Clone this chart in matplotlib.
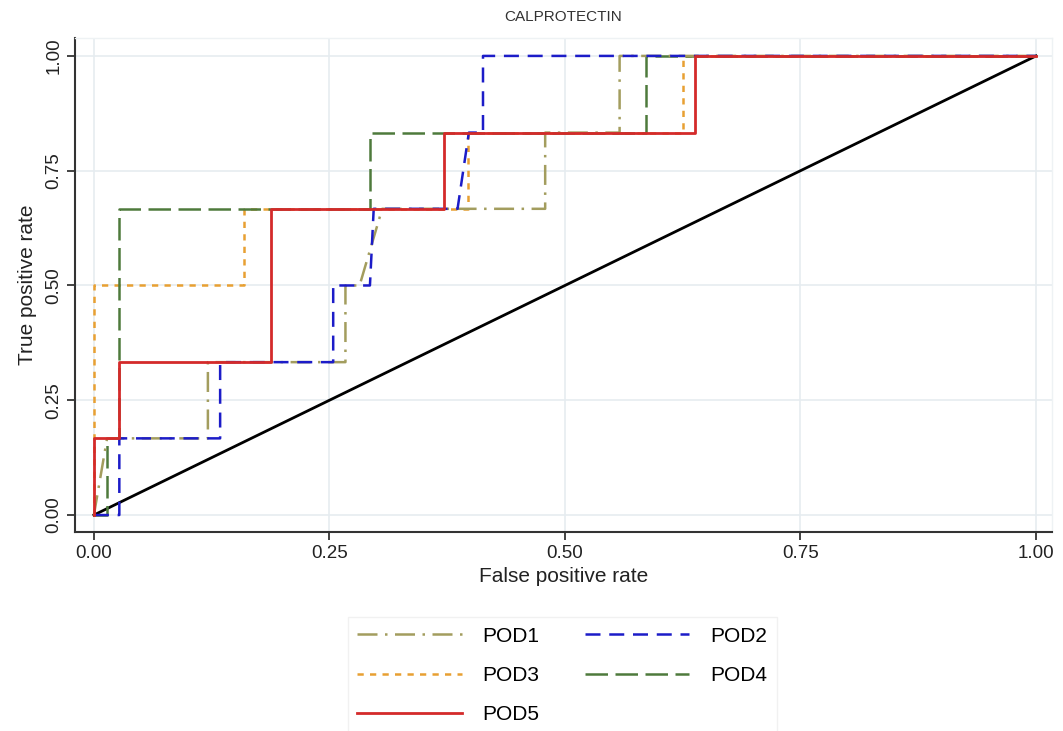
import matplotlib.pyplot as plt

plt.rcParams['font.family'] = ['Liberation Sans', 'DejaVu Sans']

# ROC curves (false positive rate, true positive rate)
pod1_fpr = [0, 0.014, 0.121, 0.121, 0.267, 0.267, 0.282, 0.306, 0.479, 0.479, 0.558, 0.558, 1]
pod1_tpr = [0, 0.167, 0.167, 0.333, 0.333, 0.5, 0.5, 0.667, 0.667, 0.833, 0.833, 1, 1]

pod2_fpr = [0, 0.027, 0.027, 0.134, 0.134, 0.254, 0.254, 0.293, 0.297, 0.386, 0.398, 0.413, 0.413, 1]
pod2_tpr = [0, 0, 0.167, 0.167, 0.333, 0.333, 0.5, 0.5, 0.667, 0.667, 0.833, 0.833, 1, 1]

pod3_fpr = [0, 0, 0.159, 0.159, 0.397, 0.397, 0.625, 0.625, 1]
pod3_tpr = [0, 0.5, 0.5, 0.667, 0.667, 0.833, 0.833, 1, 1]

pod4_fpr = [0, 0.014, 0.014, 0.027, 0.027, 0.293, 0.293, 0.586, 0.586, 1]
pod4_tpr = [0, 0, 0.167, 0.167, 0.667, 0.667, 0.833, 0.833, 1, 1]

pod5_fpr = [0, 0, 0.027, 0.027, 0.188, 0.188, 0.372, 0.372, 0.638, 0.638, 1]
pod5_tpr = [0, 0.167, 0.167, 0.333, 0.333, 0.667, 0.667, 0.833, 0.833, 1, 1]

ref_x = [0, 1]
ref_y = [0, 1]

ticks = [0, 0.25, 0.5, 0.75, 1]
tick_labels = ['0.00', '0.25', '0.50', '0.75', '1.00']

fig = plt.figure(figsize=(10.63, 7.31), dpi=100)
ax = fig.add_axes([0.0706, 0.2722, 0.9191, 0.6758])

# draw order: reference line, then curves
ax.plot(ref_x, ref_y, color='black', lw=2.0, zorder=2)
l3, = ax.plot(pod3_fpr, pod3_tpr, color='#e8a032', lw=1.8, ls=(0, (2.5, 2.5)), label='POD3', zorder=3)
l4, = ax.plot(pod4_fpr, pod4_tpr, color='#4e7a3c', lw=1.8, ls=(0, (9, 3)), label='POD4', zorder=3)
l1, = ax.plot(pod1_fpr, pod1_tpr, color='#a39d5e', lw=1.8, ls=(0, (8, 3, 1, 3)), label='POD1', zorder=4)
l2, = ax.plot(pod2_fpr, pod2_tpr, color='#1c1cc8', lw=1.8, ls=(0, (6, 3.5)), label='POD2', zorder=4)
l5, = ax.plot(pod5_fpr, pod5_tpr, color='#d42a2a', lw=2.0, ls='-', label='POD5', zorder=5)

ax.set_xlim(-0.020, 1.017)
ax.set_ylim(-0.037, 1.039)
ax.set_xticks(ticks)
ax.set_xticklabels(tick_labels)
ax.set_yticks(ticks)
ax.set_yticklabels(tick_labels, rotation=90, va='center')
ax.tick_params(labelsize=13.5, length=6, width=1.2, colors='#222222', pad=3)
ax.grid(True, color='#e6ecf0', lw=1.2)
ax.set_axisbelow(True)

for side in ['left', 'bottom']:
    ax.spines[side].set_color('#333333')
    ax.spines[side].set_linewidth(1.5)
for side in ['top', 'right']:
    ax.spines[side].set_color('#eef2f4')
    ax.spines[side].set_linewidth(1.0)

ax.set_xlabel('False positive rate', fontsize=15, color='#222222', labelpad=4)
ax.set_ylabel('True positive rate', fontsize=15, color='#222222', labelpad=6)
ax.set_title('CALPROTECTIN', fontsize=11, color='#333333', pad=12)

fig.legend(handles=[l1, l3, l5, l2, l4], ncol=2, loc='upper center',
           bbox_to_anchor=(0.529, 0.170), fontsize=15,
           handlelength=5.0, handletextpad=1.0, columnspacing=2.2,
           labelspacing=0.98, frameon=True, fancybox=False,
           edgecolor='#eeeeee', borderpad=0.45)

fig.savefig('out.png', dpi=100, facecolor='white')
